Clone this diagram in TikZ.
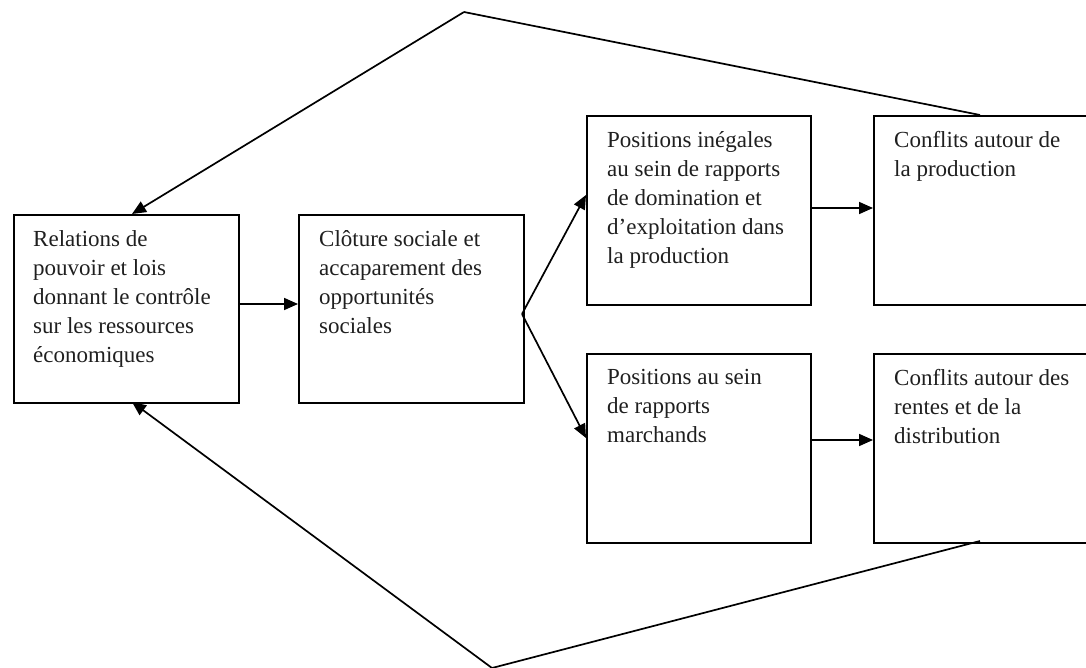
\documentclass[tikz,border=0pt]{standalone}
\usepackage{fontspec}
\setmainfont{Liberation Serif}
\usetikzlibrary{arrows.meta,calc}
\begin{document}
\begin{tikzpicture}[x=1pt,y=-1pt,
  box/.style={draw,line width=1.8pt,anchor=north west,inner sep=0pt,minimum width=#1},
  box/.default=225pt,
  lbl/.style={anchor=north west,inner sep=0pt,align=left,font=\fontsize{23}{29}\selectfont,text=black!88},
  arr/.style={line width=1.7pt,-{Triangle[length=14pt,width=12pt]}},
  ln/.style={line width=1.7pt}]
\useasboundingbox (0,0) rectangle (1086,668);
\clip (0,0) rectangle (1086,668);
% boxes
\node[box,minimum height=188pt] (A) at (13,214) {};
\node[box,minimum height=188pt] (B) at (298,214) {};
\node[box,minimum height=189pt,minimum width=224pt] (C) at (586,115) {};
\node[box,minimum height=189pt,minimum width=224pt] (D) at (586,353) {};
\node[box,minimum height=189pt,minimum width=240pt] (E) at (873,115) {};
\node[box,minimum height=189pt,minimum width=240pt] (F) at (873,353) {};
% texts
\node[lbl] (tA) at ($(A.north west)+(20,16)$) {Relations de\\pouvoir et lois\\donnant le contrôle\\sur les ressources\\économiques};
\node[lbl] (tB) at ($(B.north west)+(21,16)$) {Clôture sociale et\\accaparement des\\opportunités\\sociales};
\node[lbl] (tC) at ($(C.north west)+(21,16)$) {Positions inégales\\au sein de rapports\\de domination et\\d’exploitation dans\\la production};
\node[lbl] (tD) at ($(D.north west)+(21,16)$) {Positions au sein\\de rapports\\marchands};
\node[lbl] (tE) at ($(E.north west)+(21,16)$) {Conflits autour de\\la production};
\node[lbl] (tF) at ($(F.north west)+(21,16)$) {Conflits autour des\\rentes et de la\\distribution};
% coordinates
\coordinate (split) at (522,314);
\coordinate (top) at (464,12);
\coordinate (bot) at (492,668);
\coordinate (eTop) at (980,115);
\coordinate (fBot) at (980,541);
\coordinate (aTop) at (132,214);
\coordinate (aBot) at (132,402);
% connectors
\draw[arr] (A.east |- 0,304) -- (B.west |- 0,304);
\draw[arr] (split) -- (C.west |- 0,195);
\draw[arr] (split) -- (D.west |- 0,438);
\draw[arr] (C.east |- 0,208) -- (E.west |- 0,208);
\draw[arr] (D.east |- 0,440) -- (F.west |- 0,440);
\draw[ln] (eTop) -- (top);
\draw[arr] (top) -- (aTop);
\draw[ln] (fBot) -- (bot);
\draw[arr] (bot) -- (aBot);
\end{tikzpicture}
\end{document}
